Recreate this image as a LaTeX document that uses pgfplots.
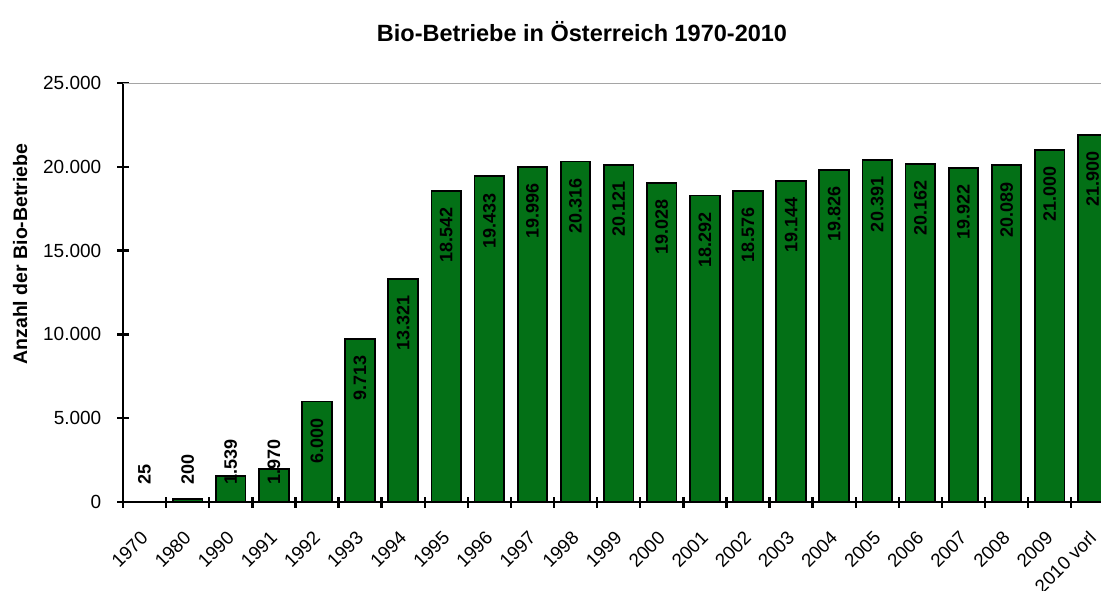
\documentclass[border=0pt]{standalone}
\usepackage{pgfplots}
\pgfplotsset{compat=1.18}
\usepackage{pgfplotstable}
\usepackage{fontspec}
\setmainfont{Liberation Sans}
\definecolor{barfill}{RGB}{3,112,22}
\definecolor{topline}{RGB}{165,165,165}

\pgfplotstableread{
x y
0 25
1 200
2 1539
3 1970
4 6000
5 9713
6 13321
7 18542
8 19433
9 19996
10 20316
11 20121
12 19028
13 18292
14 18576
15 19144
16 19826
17 20391
18 20162
19 19922
20 20089
21 21000
22 21900
}\bars

\pgfplotstableread{
x y label
4 6000 6.000
5 9713 9.713
6 13321 13.321
7 18542 18.542
8 19433 19.433
9 19996 19.996
10 20316 20.316
11 20121 20.121
12 19028 19.028
13 18292 18.292
14 18576 18.576
15 19144 19.144
16 19826 19.826
17 20391 20.391
18 20162 20.162
19 19922 19.922
20 20089 20.089
21 21000 21.000
22 21900 21.900
}\biglabels

\pgfplotstableread{
x y label
0 1014 25
1 1014 200
2 1014 1.539
3 1014 1.970
}\smalllabels

\begin{document}
\begin{tikzpicture}
\useasboundingbox (0,0) rectangle (1101pt,590pt);
\clip (0,0) rectangle (1101pt,590pt);
\begin{axis}[
  at={(123pt,88pt)}, anchor=south west,
  scale only axis, width=991.3pt, height=419pt,
  xmin=-0.5, xmax=22.5, ymin=0, ymax=25000,
  axis x line*=bottom, axis y line*=left,
  axis line style={line width=2.8pt, black},
  xtick={-0.5,0.5,...,22.5},
  x tick label as interval,
  xticklabels={1970,1980,1990,1991,1992,1993,1994,1995,1996,1997,1998,1999,2000,2001,2002,2003,2004,2005,2006,2007,2008,2009,2010 vorl},
  ytick={0,5000,10000,15000,20000,25000},
  scaled y ticks=false,
  tick align=center,
  major tick length=11pt,
  tick style={line width=2.4pt, black},
  /pgf/number format/assume math mode=true,
  yticklabel style={/pgf/number format/1000 sep={.}, anchor=east, inner sep=0pt, xshift=-16pt, font=\fontsize{19}{21}\selectfont},
  xticklabel style={yshift=-27pt, rotate=45, anchor=east, inner sep=0pt, font=\fontsize{18.8}{21}\selectfont},
]
\addplot[ybar, bar width=29.6pt, fill=barfill, draw=black, line width=1.8pt] table[x=x,y=y] {\bars};
\addplot[draw=none, mark=none, nodes near coords, point meta=explicit symbolic,
  every node near coord/.append style={rotate=90, anchor=east, inner ysep=0pt, inner xsep=16.5pt, text=black, font=\bfseries\fontsize{18}{20}\selectfont}]
  table[x=x,y=y,meta=label] {\biglabels};
\addplot[draw=none, mark=none, nodes near coords, point meta=explicit symbolic,
  every node near coord/.append style={rotate=90, anchor=west, inner ysep=0pt, inner xsep=0pt, text=black, font=\bfseries\fontsize{18}{20}\selectfont}]
  table[x=x,y=y,meta=label] {\smalllabels};
\draw[topline, line width=1.5pt] (rel axis cs:0,1) -- (rel axis cs:1,1);
\end{axis}
\node[anchor=base, font=\bfseries\fontsize{23.5}{26}\selectfont] at (582pt,548.3pt) {Bio-Betriebe in Österreich 1970-2010};
\node[rotate=90, anchor=base, font=\bfseries\fontsize{19.5}{22}\selectfont] at (27pt,336pt) {Anzahl der Bio-Betriebe};
\end{tikzpicture}
\end{document}
